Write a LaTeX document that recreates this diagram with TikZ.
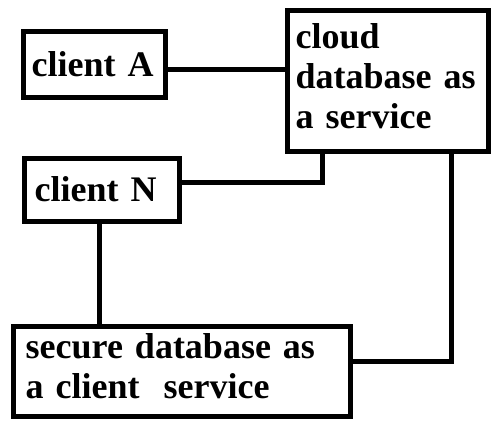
\documentclass[tikz,border=0pt]{standalone}
\usepackage{fontspec}
\setmainfont{Liberation Serif}
\usepackage{tikz}
\usetikzlibrary{calc}

\begin{document}
\begin{tikzpicture}[
  x=1pt, y=-1pt,
  box/.style={draw, line width=5pt, outer sep=0pt, inner ysep=0pt, align=left, anchor=north west, font=\bfseries\fontsize{36}{40}\selectfont},
  link/.style={line width=5pt}
]
  \useasboundingbox (0,0) rectangle (498,432);
  \node[box, inner xsep=8.5pt, text width=125pt, text height=44.9pt, text depth=20.8pt] (ca) at (23.2,31.8) {client A};
  \node[box, inner xsep=10.5pt, text width=134pt, text height=43.5pt, text depth=19.8pt] (cn) at (24.2,158.2) {client N};
  \node[box, inner xsep=8.2pt, text width=184.3pt, text height=37.5pt, text depth=103.2pt] (cloud) at (287.5,10.8) {cloud\\database as\\a service};
  \node[box, inner xsep=12.2pt, text width=312.9pt, text height=31.5pt, text depth=58.2pt] (sec) at (13.5,326.8) {secure database as\\a client~ service};
  \draw[link] ([yshift=-4.5pt]ca.east) -- ([yshift=-4.5pt]ca.east -| cloud.west);
  \draw[link] ([yshift=7pt]cn.east) -| ([xshift=35pt]cloud.south west);
  \draw[link] ([xshift=-2pt]cn.south) -- ([xshift=-2pt]cn.south |- sec.north);
  \draw[link] ([yshift=10pt]sec.east) -| ([xshift=-36.5pt]cloud.south east);
\end{tikzpicture}
\end{document}
